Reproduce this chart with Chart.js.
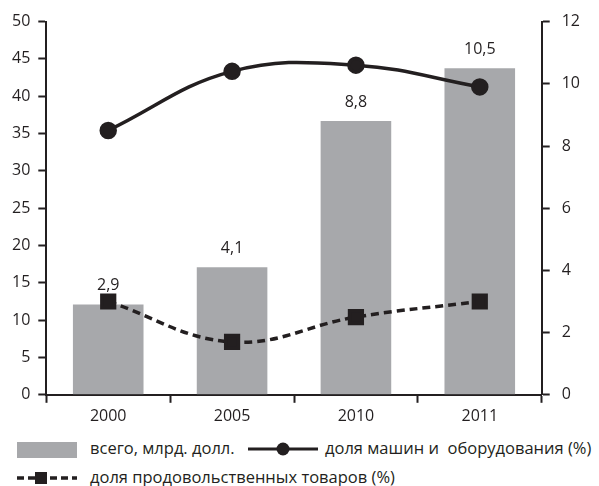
<!DOCTYPE html>
<html>
<head>
<meta charset="utf-8">
<script src="https://cdn.jsdelivr.net/npm/chart.js@4"></script>
<style>
  body { margin: 0; background: #fff; font-family: "Open Sans", sans-serif; }
  #wrap { position: relative; width: 599px; height: 486px; }
  #chart_box { position: absolute; left: 0; top: 0; width: 599px; height: 430px; }
  .leg { position: absolute; font-size: 16.5px; color: #231f20; white-space: pre; }
</style>
</head>
<body>
<div id="wrap">
  <div id="chart_box"><canvas id="export_chart"></canvas></div>
  <!-- legend drawn by hand, chart.js legend can't do line+marker symbols like this -->
  <svg class="leg" style="left:17px;top:440px" width="60" height="18"><rect x="0" y="2" width="60" height="16" fill="#a7a8ab"/></svg>
  <div class="leg" style="left:90px;top:436px">всего, млрд. долл.</div>
  <svg class="leg" style="left:248px;top:440px" width="70" height="18"><line x1="0" y1="9" x2="70" y2="9" stroke="#231f20" stroke-width="3"/><circle cx="35" cy="9" r="6.5" fill="#231f20"/></svg>
  <div class="leg" style="left:325px;top:436px">доля машин и  оборудования (%)</div>
  <svg class="leg" style="left:17px;top:469px" width="60" height="18"><line x1="0" y1="9" x2="60" y2="9" stroke="#231f20" stroke-width="3.5" stroke-dasharray="7,4"/><rect x="18" y="3" width="12" height="12" fill="#231f20"/></svg>
  <div class="leg" style="left:90px;top:465px">доля продовольственных товаров (%)</div>
</div>
<script>
const years = ['2000', '2005', '2010', '2011'];
const total = [2.9, 4.1, 8.8, 10.5];          // bar, read on the right axis
const machines = [8.5, 10.4, 10.6, 9.9];
const food = [3.0, 1.7, 2.5, 3.0];
const barLabels = ['2,9', '4,1', '8,8', '10,5'];

const ink = '#231f20';
Chart.defaults.font.family = '"Open Sans", sans-serif';
Chart.defaults.font.size = 16;
Chart.defaults.color = ink;

// writes the value over each bar
const barText = {
  id: 'barText',
  afterDatasetsDraw(chart) {
    const c = chart.ctx;
    const meta = chart.getDatasetMeta(2);
    c.save();
    c.font = '16px "Open Sans", sans-serif';
    c.fillStyle = ink;
    c.textAlign = 'center';
    c.textBaseline = 'bottom';
    meta.data.forEach((bar, i) => {
      c.fillText(barLabels[i], bar.x, bar.y - 11);
    });
    c.restore();
  }
};

const ctx_exp = document.querySelector('#export_chart');
new Chart(ctx_exp, {
  type: 'bar',
  data: {
    labels: years,
    datasets: [
      {
        type: 'line',
        label: 'доля машин и  оборудования (%)',
        data: machines,
        yAxisID: 'y2',
        borderColor: ink,
        backgroundColor: ink,
        borderWidth: 3.5,
        pointRadius: 7,
        pointStyle: 'circle',
        tension: 0.4,
        order: 1
      },
      {
        type: 'line',
        label: 'доля продовольственных товаров (%)',
        data: food,
        yAxisID: 'y2',
        borderColor: ink,
        backgroundColor: ink,
        borderWidth: 3.5,
        borderDash: [8, 5],
        pointRadius: 9,
        pointStyle: 'rect',
        tension: 0.4,
        order: 2
      },
      {
        label: 'всего, млрд. долл.',
        data: total,
        yAxisID: 'y2',
        backgroundColor: '#a7a8ab',
        categoryPercentage: 0.57,
        barPercentage: 1,
        order: 3
      }
    ]
  },
  options: {
    responsive: true,
    maintainAspectRatio: false,
    animation: false,
    layout: { padding: { left: 4, right: 7, top: 9, bottom: 0 } },
    plugins: {
      legend: { display: false },
      tooltip: { enabled: false }
    },
    scales: {
      x: {
        grid: { offset: true, drawOnChartArea: false, color: ink, tickLength: 8, tickWidth: 2 },
        border: { color: ink, width: 2 },
        ticks: { padding: 4 }
      },
      y: {
        position: 'left',
        min: 0, max: 50,
        ticks: { stepSize: 5, padding: 8 },
        grid: { drawOnChartArea: false, color: ink, tickLength: 8, tickWidth: 2 },
        border: { color: ink, width: 2 }
      },
      y2: {
        position: 'right',
        min: 0, max: 12,
        ticks: { stepSize: 2, padding: 12 },
        grid: { drawOnChartArea: false, color: ink, tickLength: 8, tickWidth: 2 },
        border: { color: ink, width: 2 }
      }
    }
  },
  plugins: [barText]
});
</script>
</body>
</html>
